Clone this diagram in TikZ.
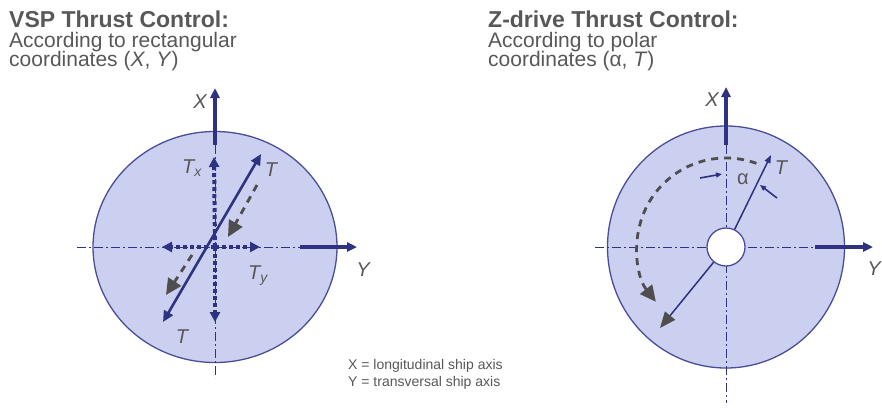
\documentclass[tikz,border=0pt]{standalone}
\usepackage{fontspec}
\setmainfont{Liberation Sans}
\usetikzlibrary{shapes.geometric,arrows.meta,positioning,calc}
\definecolor{diskfill}{RGB}{203,207,240}
\definecolor{rimblue}{RGB}{75,78,150}
\definecolor{navy}{RGB}{46,50,128}
\definecolor{turngray}{RGB}{78,78,78}
\definecolor{txtgray}{RGB}{88,88,88}

\begin{document}
\begin{tikzpicture}[x=1pt, y=-1pt,
  disk/.style={draw=rimblue, fill=diskfill, ellipse, line width=1.3pt, inner sep=0pt},
  hub/.style={draw=rimblue, fill=white, circle, line width=1.3pt, minimum size=38pt, inner sep=0pt},
  centreline/.style={draw=navy, line width=0.9pt, dash pattern=on 9pt off 3pt on 2pt off 3pt},
  axisarrow/.style={-{Triangle[length=10pt,width=9pt]}, line width=3.2pt, navy},
  thrust/.style={{Triangle[length=11pt,width=10pt]}-{Triangle[length=11pt,width=10pt]}, line width=2.6pt, navy},
  component/.style={-{Triangle[length=10pt,width=10pt]}, line width=4pt, navy, dash pattern=on 4pt off 3pt},
  turn/.style={-{Triangle[length=16pt,width=15pt]}, line width=2.8pt, turngray, dash pattern=on 7pt off 6pt},
  pointer/.style={-{Triangle[length=6pt,width=5pt]}, line width=1.6pt, navy},
  lbl/.style={font=\fontsize{20}{20}\selectfont\itshape, text=txtgray, inner sep=0pt},
  heading/.style={font=\fontsize{23}{24}\selectfont\bfseries, text=txtgray, anchor=base west, inner sep=0pt},
  subline/.style={font=\fontsize{21}{21}\selectfont, text=txtgray, anchor=base west, inner sep=0pt},
  legend/.style={font=\fontsize{14}{14}\selectfont, text=txtgray, anchor=base west, inner sep=0pt}
]
\useasboundingbox[fill=white] (0,0) rectangle (882,407);

% headings
\node[heading] (vspTitle) at (9,27) {VSP Thrust Control:};
\node[subline] (vspSub1) at (9,47) {According to rectangular};
\node[subline] (vspSub2) at (9,66) {coordinates (\textit{X}, \textit{Y})};
\node[heading] (zTitle) at (488,27) {Z-drive Thrust Control:};
\node[subline] (zSub1) at (488,47) {According to polar};
\node[subline] (zSub2) at (488,66) {coordinates (α, \textit{T})};

% VSP disk
\coordinate (cL) at (215,247);
\node[disk, minimum width=244pt, minimum height=231pt] (diskL) at (cL) {};
\coordinate (hL1) at (77,247);
\coordinate (hL2) at (300,247);
\coordinate (yL) at (357,247);
\coordinate (vL1) at (215,145);
\coordinate (vL2) at (215,378);
\coordinate (xL) at (215,88);
\draw[centreline] (hL1) -- (hL2);
\draw[centreline] (vL1) -- (vL2);
\draw[axisarrow] (vL1) -- (xL);
\draw[axisarrow] (hL2) -- (yL);
\node[lbl] (xLbl) at (200,102) {X};
\node[lbl] (yLbl) at (363,270) {Y};

% components Tx, Ty
\coordinate (txUp) at (214,157);
\coordinate (txDown) at (215,322);
\coordinate (tyLeft) at (162,247);
\coordinate (tyRight) at (260,247);
\draw[component] (cL) -- (txUp);
\draw[component] (cL) -- (txDown);
\draw[component] (cL) -- (tyLeft);
\draw[component] (cL) -- (tyRight);

% turning
\coordinate (turnA1) at (257,185);
\coordinate (turnA2) at (228,237);
\coordinate (turnB1) at (192,255);
\coordinate (turnB2) at (166,295);
\draw[turn] (turnA1) -- (turnA2);
\draw[turn] (turnB1) -- (turnB2);

% thrust
\coordinate (tLa) at (163,322);
\coordinate (tLb) at (261,154);
\draw[thrust] (tLa) -- (tLb);
\node[lbl] (tUp) at (271,170) {T};
\node[lbl] (tDown) at (182,337) {T};
\node[lbl] (txLbl) at (192,168) {T\textsubscript{x}};
\node[lbl] (tyLbl) at (258,276) {T\textsubscript{y}};

% Z-drive disk
\coordinate (cR) at (726,247);
\node[disk, minimum width=237pt, minimum height=242pt] (diskR) at (cR) {};
\coordinate (hR1) at (595,247);
\coordinate (hR2) at (815,247);
\coordinate (yR) at (873,247);
\coordinate (vR1) at (726,145);
\coordinate (vR2) at (726,403);
\coordinate (xR) at (726,87);
\draw[centreline] (hR1) -- (hR2);
\draw[centreline] (vR1) -- (vR2);
\draw[axisarrow] (vR1) -- (xR);
\draw[axisarrow] (hR2) -- (yR);
\node[lbl] (xLblR) at (712,100) {X};
\node[lbl] (yLblR) at (874,269) {Y};
\node[hub] (hub) at (cR) {};

% azimuth
\draw[turn] ($(cR)+(70:89pt)$) arc[start angle=70, end angle=218, radius=89pt];
\coordinate (tRa) at (771,155);
\coordinate (tRb) at (660,328);
\draw[-{Triangle[length=8pt,width=6pt]}, line width=1.5pt, navy] (hub) -- (tRa);
\draw[-{Triangle[length=16pt,width=13pt,color=turngray]}, line width=1.5pt, navy] (hub) -- (tRb);
\coordinate (pA1) at (700,178);
\coordinate (pA2) at (722,174);
\coordinate (pB1) at (777,198);
\coordinate (pB2) at (760,185);
\draw[pointer] (pA1) -- (pA2);
\draw[pointer] (pB1) -- (pB2);
\node[lbl, font=\fontsize{20}{20}\selectfont] (alphaLbl) at (743,179) {α};
\node[lbl] (tR) at (781,168) {T};

% legend
\node[legend] (legX) at (348,369) {X = longitudinal ship axis};
\node[legend] (legY) at (348,386) {Y = transversal ship axis};
\end{tikzpicture}
\end{document}
